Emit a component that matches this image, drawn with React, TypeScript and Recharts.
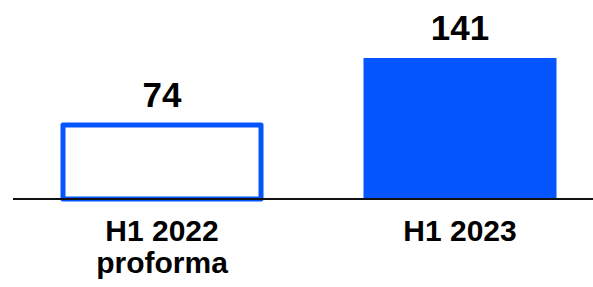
import React from 'react';
import { BarChart, Bar, XAxis, YAxis, LabelList, Cell } from 'recharts';

// Half-year results, two periods
const categories = ['H1 2022\nproforma', 'H1 2023'];
const values = [74, 141];
const outlined = [true, false];

const BLUE = '#0555FF';
const FONT = '"Liberation Sans", Arial, sans-serif';

const data = categories.map((name, i) => ({ name, value: values[i], outlined: outlined[i] }));

// Outlined bar keeps the full width with a thick border, the filled one is inset a bit
const BarShape = (props: any) => {
  const { x, y, width, height, payload } = props;
  if (payload.outlined) {
    return (
      <rect
        x={x}
        y={y}
        width={width}
        height={height}
        fill="#ffffff"
        stroke={BLUE}
        strokeWidth={5}
        strokeLinejoin="round"
      />
    );
  }
  return <rect x={x + 2.5} y={y} width={width - 5} height={height} fill={BLUE} />;
};

const CategoryTick = (props: any) => {
  const { x, y, payload } = props;
  const lines = String(payload.value).split('\n');
  return (
    <text
      x={x}
      y={y + 34}
      textAnchor="middle"
      fill="#000000"
      fontFamily={FONT}
      fontWeight="bold"
      fontSize={30}
    >
      {lines.map((line, i) => (
        <tspan key={i} x={x} dy={i === 0 ? 0 : 32}>
          {line}
        </tspan>
      ))}
    </text>
  );
};

export default function App() {
  return (
    <div
      style={{
        position: 'absolute',
        top: 0,
        left: 0,
        width: 593,
        height: 287,
        overflow: 'hidden',
        background: '#ffffff',
      }}
    >
      <BarChart
        width={610}
        height={287}
        data={data}
        margin={{ top: 58, right: 1, bottom: 0, left: 13 }}
        barSize={198}
      >
        <XAxis
          dataKey="name"
          height={88}
          axisLine={{ stroke: '#111111', strokeWidth: 2 }}
          tickLine={false}
          interval={0}
          tick={<CategoryTick />}
        />
        <YAxis hide domain={[0, 140]} />
        <Bar dataKey="value" shape={<BarShape />} isAnimationActive={false}>
          {data.map((d, i) => (
            <Cell key={i} fill={BLUE} />
          ))}
          <LabelList
            dataKey="value"
            position="top"
            offset={18}
            fill="#000000"
            style={{ fontFamily: FONT, fontWeight: 'bold', fontSize: 35 }}
          />
        </Bar>
      </BarChart>
    </div>
  );
}
